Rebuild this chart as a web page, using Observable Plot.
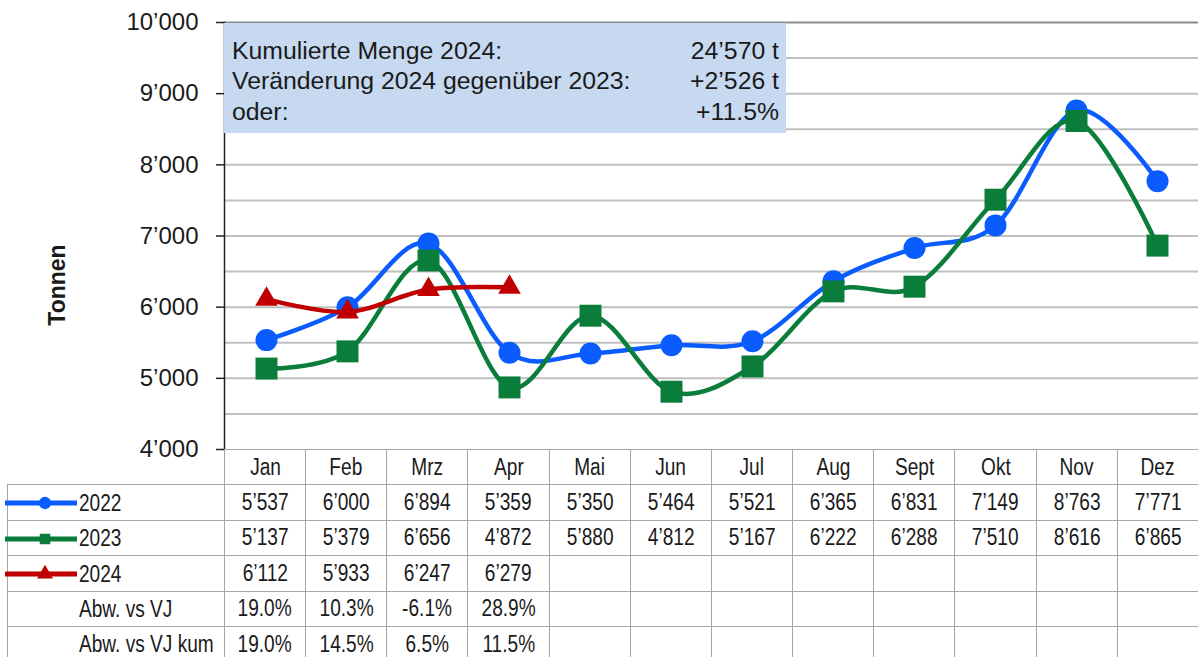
<!DOCTYPE html>
<html><head><meta charset="utf-8">
<script src="https://cdn.jsdelivr.net/npm/d3@7"></script>
<script src="https://cdn.jsdelivr.net/npm/@observablehq/plot@0.6"></script>
<style>
body{margin:0;background:#fff;}
#wrap{position:relative;width:1198px;height:657px;overflow:hidden;font-family:"Liberation Sans",Arial,sans-serif;}
#box{position:absolute;left:224px;top:23px;width:562px;height:110px;background:#c6d9f0;font-size:24.8px;color:#1a1a1a;}
.brow{position:absolute;left:8px;right:7px;height:30px;line-height:30px;white-space:nowrap;}
.brow .v{position:absolute;right:0;top:0;}
#tbl{position:absolute;left:7px;top:449px;border-collapse:collapse;table-layout:fixed;width:1191px;font-family:"Liberation Sans",Arial,sans-serif;font-size:23px;color:#1a1a1a;}
#tbl td{border:1.5px solid #a6a6a6;padding:0;text-align:center;white-space:nowrap;overflow:visible;}
#tbl tr{height:35.4px;}
#tbl td.lab{text-align:left;}
#tbl td.blank{border-top:none;border-left:none;}
.n{display:inline-block;transform:scaleX(0.83);transform-origin:center center;}
td.lab .n{transform-origin:left center;vertical-align:middle;}
</style></head>
<body>
<div id="wrap"></div>
<script>
const months = ["Jan","Feb","Mrz","Apr","Mai","Jun","Jul","Aug","Sept","Okt","Nov","Dez"];
const values2022 = [5537,6000,6894,5359,5350,5464,5521,6365,6831,7149,8763,7771];
const values2023 = [5137,5379,6656,4872,5880,4812,5167,6222,6288,7510,8616,6865];
const values2024 = [6112,5933,6247,6279];
const abwVJ = [19.0,10.3,-6.1,28.9];
const abwVJkum = [19.0,14.5,6.5,11.5];
const seriesNames = ["2022","2023","2024"];
const seriesColors = ["#0a5cff","#0a7d3b","#c00000"];
const seriesSymbols = ["circle","square","triangle"];
const yTicks = [4000,5000,6000,7000,8000,9000,10000];
const gridValues = [4500,5000,5500,6000,6500,7000,7500,8000,8500,9000,9500];
const summaryLabels = ["Kumulierte Menge 2024:","Veränderung 2024 gegenüber 2023:","oder:"];
const summaryValues = ["24’570 t","+2’526 t","+11.5%"];
const rowLabels = ["Abw. vs VJ","Abw. vs VJ kum"];
const yLabel = "Tonnen";

const fmt = d3.formatLocale({decimal:".", thousands:"’", grouping:[3], currency:["",""]}).format(",d");
const pct = d => d.toFixed(1) + "%";

const seriesValues = [values2022, values2023, values2024];
const dataBySeries = seriesValues.map((vals, s) => vals.map((v, i) => ({month: months[i], value: v, series: seriesNames[s]})));
const symbolR = {circle: 11, square: 12.4, triangle: 8.4};

const marks = [
  Plot.gridY(gridValues, {stroke: "#bfbfbf", strokeOpacity: 1, strokeWidth: 2}),
  Plot.ruleY([10000], {stroke: "#8c8c8c", strokeWidth: 2}),
  Plot.frame({anchor: "left", stroke: "#222", strokeWidth: 1.5}),
  Plot.axisY(yTicks, {tickSize: 8, tickPadding: 18, tickFormat: fmt, fontSize: 24, label: null, stroke: "#222", strokeWidth: 1.5, fill: "#1a1a1a"}),
  Plot.text([yLabel], {frameAnchor: "left", textAnchor: "middle", lineAnchor: "middle", rotate: -90, dx: -167, dy: 49, fontSize: 23, fontWeight: "bold", fill: "#1a1a1a"})
];
dataBySeries.forEach((d, s) => {
  marks.push(Plot.line(d, {x: "month", y: "value", stroke: seriesColors[s], strokeWidth: 4.5, curve: "cardinal"}));
  marks.push(Plot.dot(d, {x: "month", y: "value", fill: seriesColors[s], stroke: "none", symbol: seriesSymbols[s], r: symbolR[seriesSymbols[s]]}));
});

const chart = Plot.plot({
  width: 1198, height: 657,
  marginLeft: 224, marginRight: 0, marginTop: 22, marginBottom: 208,
  style: {fontFamily: "'Liberation Sans', Arial, sans-serif", background: "transparent", overflow: "visible"},
  x: {type: "point", domain: months, padding: 0.5, axis: null},
  y: {domain: [4000, 10000], axis: null},
  marks
});
const wrap = document.getElementById("wrap");
wrap.appendChild(chart);

// summary box
const box = d3.select(wrap).append("div").attr("id", "box");
const rowTops = [13, 43, 74];
summaryLabels.forEach((l, i) => {
  const r = box.append("div").attr("class", "brow").style("top", rowTops[i] + "px");
  r.append("span").text(l);
  r.append("span").attr("class", "v").text(summaryValues[i]);
});

// data table
const tbl = d3.select(wrap).append("table").attr("id", "tbl");
const cg = tbl.append("colgroup");
cg.append("col").style("width", "217px");
months.forEach(() => cg.append("col").style("width", (974 / 12) + "px"));
const cell = (tr, txt, cls) => {
  const td = tr.append("td");
  if (cls) td.attr("class", cls);
  if (txt !== "") td.append("span").attr("class", "n").text(txt);
  return td;
};
const hr = tbl.append("tr");
hr.append("td").attr("class", "blank");
months.forEach(m => cell(hr, m));

function swatch(td, s) {
  const svg = td.append("svg").attr("width", 72).attr("height", 22)
    .style("vertical-align", "middle").style("margin-left", "-3px").style("margin-right", "2px");
  svg.append("line").attr("x1", 0).attr("x2", 72).attr("y1", 11).attr("y2", 11)
    .attr("stroke", seriesColors[s]).attr("stroke-width", 5).attr("stroke-linecap", "round");
  const sym = d3.symbol().type(s === 0 ? d3.symbolCircle : s === 1 ? d3.symbolSquare : d3.symbolTriangle)
    .size(s === 0 ? 120 : 110);
  svg.append("path").attr("d", sym()).attr("transform", "translate(40,11)").attr("fill", seriesColors[s]);
}
seriesValues.forEach((vals, s) => {
  const tr = tbl.append("tr");
  const td = tr.append("td").attr("class", "lab");
  swatch(td, s);
  td.append("span").attr("class", "n").text(seriesNames[s]);
  months.forEach((m, i) => cell(tr, vals[i] !== undefined ? fmt(vals[i]) : ""));
});
[abwVJ, abwVJkum].forEach((vals, k) => {
  const tr = tbl.append("tr");
  const td = tr.append("td").attr("class", "lab").style("padding-left", "71px");
  td.append("span").attr("class", "n").text(rowLabels[k]);
  months.forEach((m, i) => cell(tr, vals[i] !== undefined ? pct(vals[i]) : ""));
});
</script>
</body></html>
